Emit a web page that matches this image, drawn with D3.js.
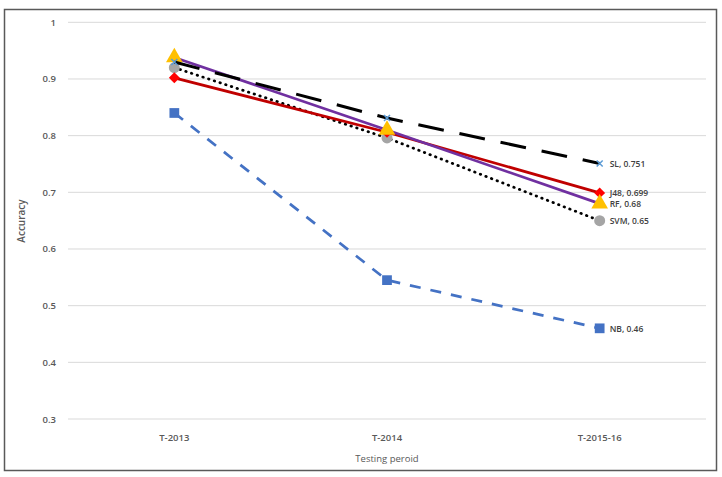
<!DOCTYPE html>
<html>
<head>
<meta charset="utf-8">
<script src="https://cdn.jsdelivr.net/npm/d3@7"></script>
<style>
  body { margin: 0; background: #fff; }
  text { font-family: "Open Sans", "Liberation Sans", sans-serif; }
</style>
</head>
<body>
<svg id="chart" width="722" height="477"></svg>
<script>
let periods = ['T-2013', 'T-2014', 'T-2015-16'];
let yTicks = [0.3, 0.4, 0.5, 0.6, 0.7, 0.8, 0.9, 1];

let slValues = [0.93, 0.831, 0.751];
let j48Values = [0.902, 0.806, 0.699];
let rfValues = [0.938, 0.81, 0.68];
let svmValues = [0.92, 0.796, 0.65];
let nbValues = [0.84, 0.545, 0.46];

let series = [
    { name: 'NB', values: nbValues, line: '#4472c4', width: 2.75, dash: '11,10', marker: 'square', mcolor: '#4472c4' },
    { name: 'SVM', values: svmValues, line: '#000', width: 2.75, dash: '0.5,5.5', cap: 'round', marker: 'circle', mcolor: '#a5a5a5' },
    { name: 'J48', values: j48Values, line: '#c00000', width: 2.75, dash: null, marker: 'diamond', mcolor: '#ff0000' },
    { name: 'RF', values: rfValues, line: '#7030a0', width: 2.75, dash: null, marker: 'triangle', mcolor: '#ffc000' },
    { name: 'SL', values: slValues, line: '#000', width: 3, dash: '26,16', marker: 'cross', mcolor: '#5b9bd5' }
];

let svg = d3.select('#chart');

// outer frame
svg.append('rect')
    .attr('x', 4.5).attr('y', 9.5)
    .attr('width', 712).attr('height', 461)
    .attr('fill', 'none')
    .attr('stroke', '#595959')
    .attr('stroke-width', 1.5);

let x = d3.scaleBand().domain(periods).range([68, 706]);
let y = d3.scaleLinear().domain([0.3, 1]).range([419, 22.3]);

// gridlines
svg.append('g')
    .selectAll('line')
    .data(yTicks)
    .enter()
    .append('line')
    .attr('x1', 68).attr('x2', 706)
    .attr('y1', (d) => y(d)).attr('y2', (d) => y(d))
    .attr('stroke', '#d9d9d9')
    .attr('stroke-width', 1);

// y tick labels
svg.append('g')
    .selectAll('text')
    .data(yTicks)
    .enter()
    .append('text')
    .attr('x', 56)
    .attr('y', (d) => y(d) + 3.5)
    .attr('text-anchor', 'end')
    .attr('font-size', 9.5)
    .attr('font-weight', 600)
    .attr('fill', '#595959')
    .text((d) => d === 1 ? '1' : d.toFixed(1));

// x tick labels
svg.append('g')
    .selectAll('text')
    .data(periods)
    .enter()
    .append('text')
    .attr('x', (d) => x(d) + x.bandwidth() / 2)
    .attr('y', 441)
    .attr('text-anchor', 'middle')
    .attr('font-size', 9.5)
    .attr('font-weight', 600)
    .attr('fill', '#595959')
    .text((d) => d);

// axis titles
svg.append('text')
    .attr('x', 387).attr('y', 462)
    .attr('text-anchor', 'middle')
    .attr('font-size', 9.5)
    .attr('fill', '#595959')
    .text('Testing peroid');

svg.append('text')
    .attr('transform', 'translate(25,221) rotate(-90)')
    .attr('text-anchor', 'middle')
    .attr('font-size', 10)
    .attr('font-weight', 600)
    .attr('fill', '#595959')
    .text('Accuracy');

let cx = (i) => x(periods[i]) + x.bandwidth() / 2;

let line = d3.line()
    .x((d, i) => cx(i))
    .y((d) => y(d));

let symbols = {
    square: d3.symbolSquare,
    circle: d3.symbolCircle,
    diamond: d3.symbolSquare,
    triangle: d3.symbolTriangle
};

series.forEach((s) => {
    svg.append('path')
        .attr('d', line(s.values))
        .attr('fill', 'none')
        .attr('stroke', s.line)
        .attr('stroke-width', s.width)
        .attr('stroke-dasharray', s.dash)
        .attr('stroke-linecap', s.cap || 'butt');

    let g = svg.append('g');
    s.values.forEach((v, i) => {
        let px = cx(i);
        let py = y(v);
        if (s.marker === 'cross') {
            g.append('path')
                .attr('d', `M${px - 3},${py - 3}L${px + 3},${py + 3}M${px - 3},${py + 3}L${px + 3},${py - 3}`)
                .attr('stroke', s.mcolor)
                .attr('stroke-width', 1.5);
        } else {
            let size = s.marker === 'triangle' ? 120 : (s.marker === 'diamond' ? 60 : 95);
            let rot = s.marker === 'diamond' ? ' rotate(45)' : '';
            g.append('path')
                .attr('d', d3.symbol().type(symbols[s.marker]).size(size)())
                .attr('transform', `translate(${px},${py})${rot}`)
                .attr('fill', s.mcolor);
        }
    });

    // data label at last point
    let last = s.values.length - 1;
    svg.append('text')
        .attr('x', cx(last) + 10)
        .attr('y', y(s.values[last]) + 3.5)
        .attr('font-size', 8.5)
        .attr('font-weight', 600)
        .attr('fill', '#404040')
        .text(s.name + ', ' + s.values[last]);
});
</script>
</body>
</html>
